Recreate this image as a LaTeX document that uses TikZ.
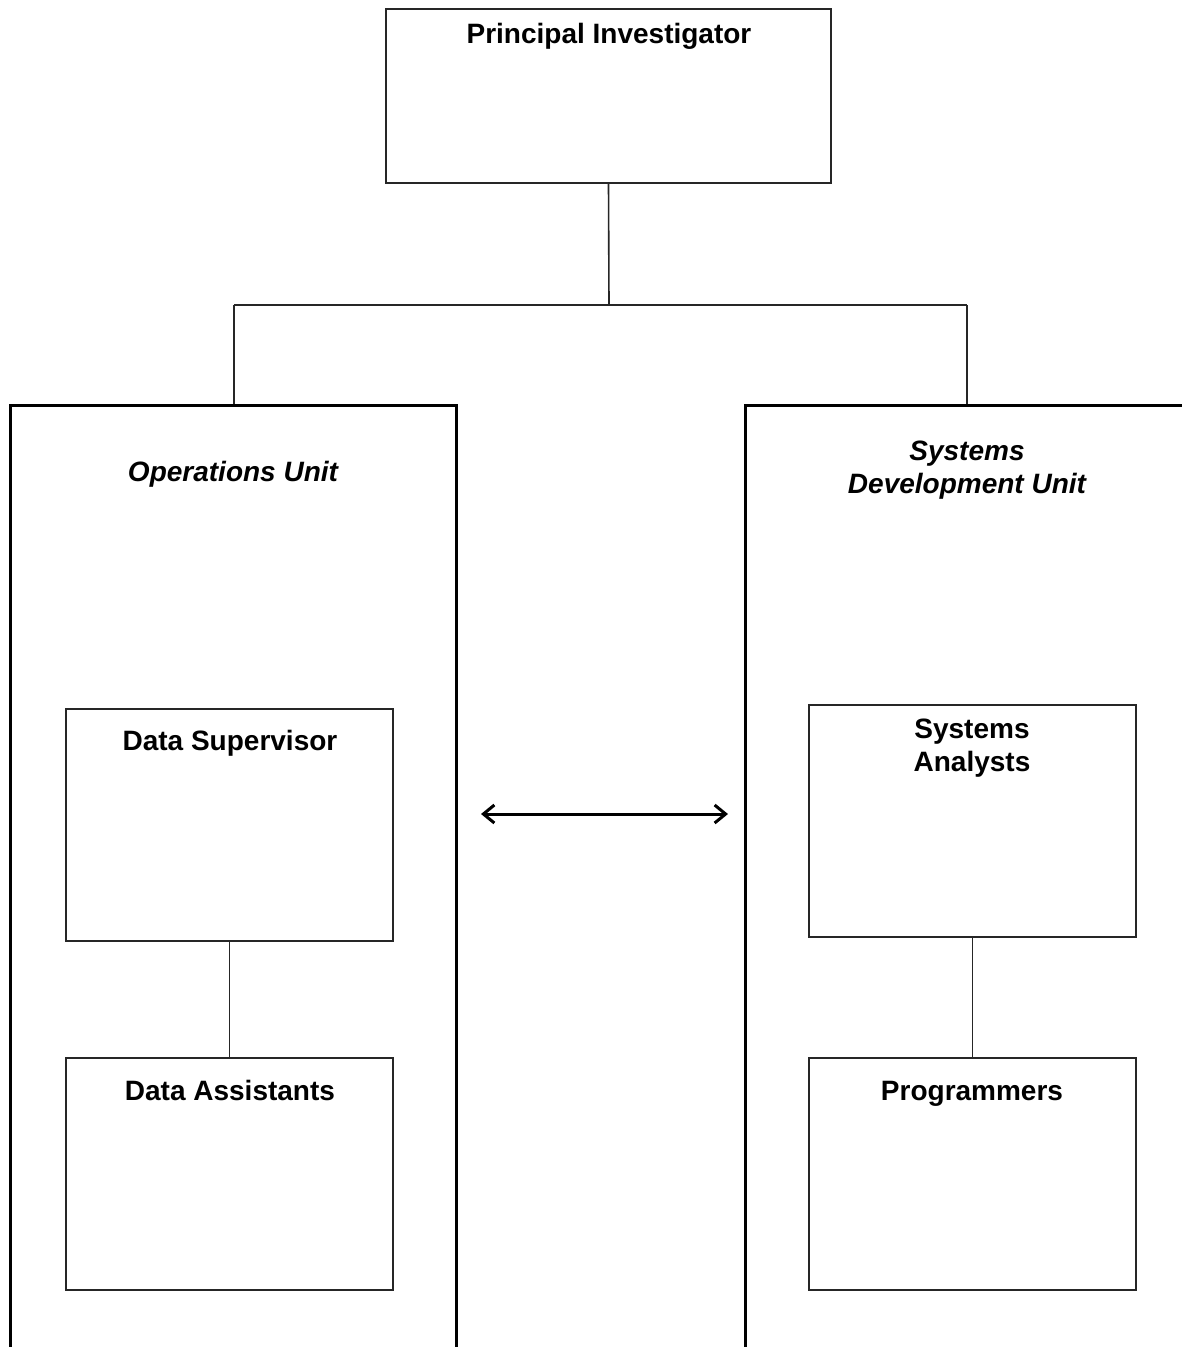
\documentclass[tikz,border=0pt]{standalone}
\usepackage{fontspec}
\setmainfont{Liberation Sans}
\usetikzlibrary{arrows.meta}
\begin{document}
\begin{tikzpicture}[x=1pt,y=-1pt,
  thinbox/.style={draw=black!85,line width=1.6pt,minimum width=#1,inner sep=0pt},
  unitline/.style={draw=black,line width=3pt},
  conn/.style={draw=black!85,line width=1.6pt},
  title/.style={font=\fontsize{28}{33}\selectfont\bfseries,anchor=base,align=center,inner sep=0pt},
  unittitle/.style={font=\fontsize{28}{33}\selectfont\bfseries\itshape,anchor=base,align=center,inner sep=0pt},
  dbl/.style={draw=black,line width=3pt,{Straight Barb[length=11pt,width=18pt,line width=3pt]}-{Straight Barb[length=11pt,width=18pt,line width=3pt]}}
]
\useasboundingbox (0,0) rectangle (1182,1347);
% Principal investigator
\node[thinbox=445pt,minimum height=174pt] (pi) at (608.5,96) {};
\node[title] (pit) at (609,43) {Principal Investigator};
% junctions
\coordinate (j) at (609,305);
\coordinate (jl) at (234,305);
\coordinate (jr) at (967,305);
\coordinate (ol) at (234,405);
\coordinate (sr) at (967,405);
\draw[conn] (pi.south) -- (j);
\draw[conn] (jl) -- (jr);
\draw[conn] (jl) -- (ol);
\draw[conn] (jr) -- (sr);
% unit containers
\draw[unitline] (10,1347) -- (10,405) -- (456,405) -- (456,1347);
\draw[unitline] (745,1347) -- (745,405) -- (1182,405);
\node[unittitle] (ops) at (233,481) {Operations Unit};
\node[unittitle] (sdu) at (967,493) {Systems\\Development Unit};
% inner boxes
\node[thinbox=327pt,minimum height=232pt] (ds) at (229.5,825) {};
\node[title] (dst) at (230,750) {Data Supervisor};
\node[thinbox=327pt,minimum height=232pt] (da) at (229.5,1174) {};
\node[title] (dat) at (230,1100) {Data Assistants};
\node[thinbox=327pt,minimum height=232pt] (sa) at (972.5,821) {};
\node[title] (sat) at (972,771) {Systems\\Analysts};
\node[thinbox=327pt,minimum height=232pt] (pr) at (972.5,1174) {};
\node[title] (prt) at (972,1100) {Programmers};
\draw[conn] (ds.south) -- (da.north);
\draw[conn] (sa.south) -- (pr.north);
% double arrow
\coordinate (al) at (481,814);
\coordinate (ar) at (728,814);
\draw[dbl] (al) -- (ar);
\end{tikzpicture}
\end{document}
